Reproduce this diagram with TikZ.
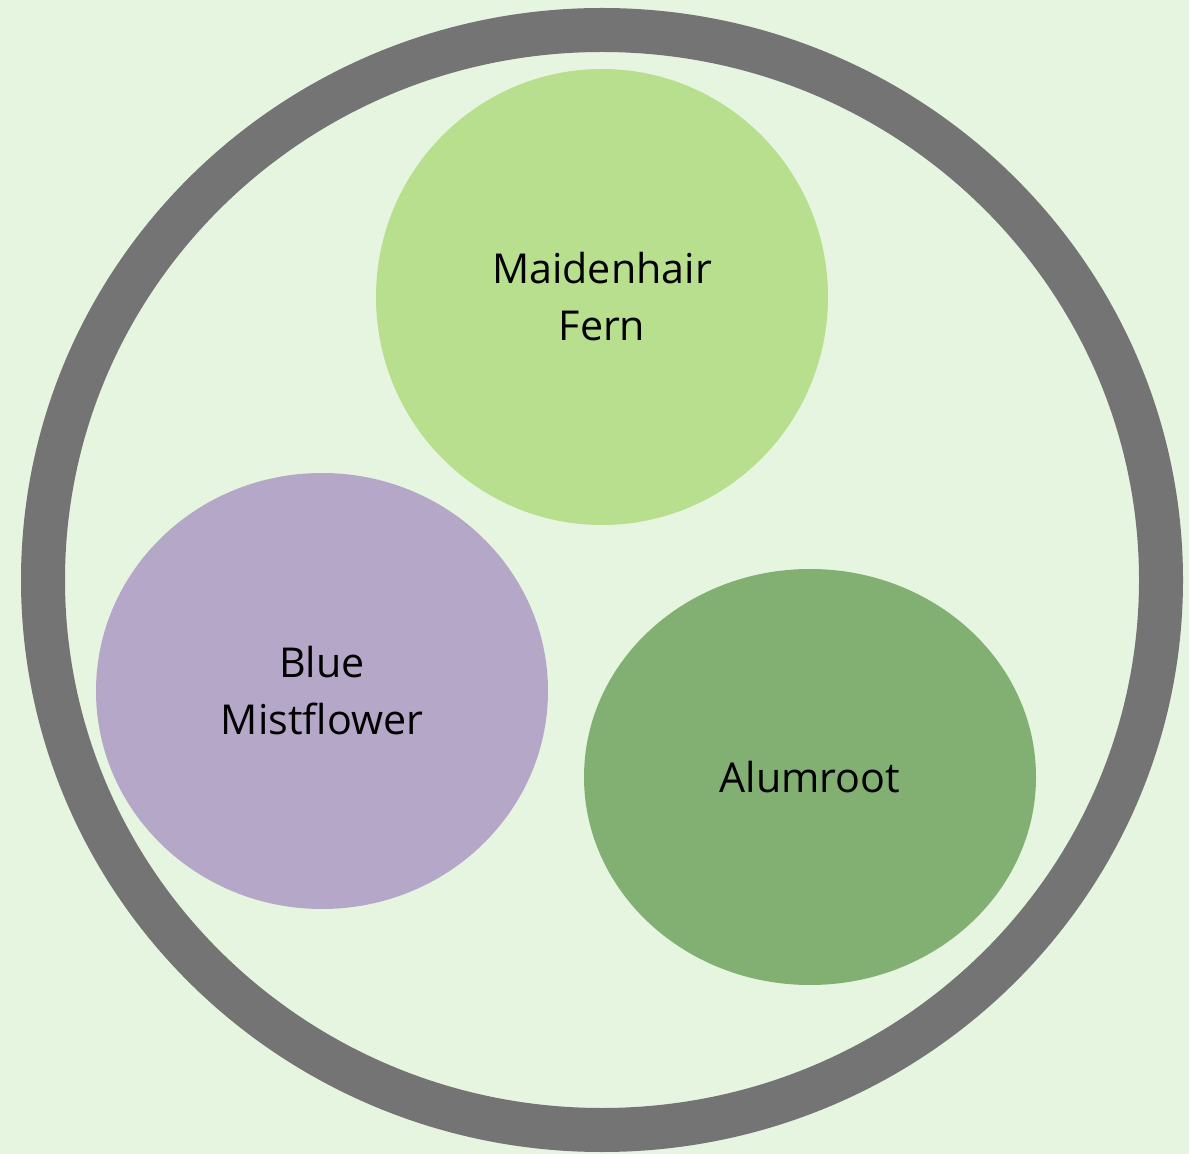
\documentclass[tikz,border=0pt]{standalone}
\usepackage{fontspec}
\setmainfont{Open Sans}
\usepackage{xcolor}
\usepackage{tikz}
\usetikzlibrary{shapes.geometric}
\definecolor{bgGreen}{HTML}{E6F5E0}
\definecolor{ringGray}{HTML}{747474}
\definecolor{fernGreen}{HTML}{B8DF8E}
\definecolor{mistPurple}{HTML}{B5A7C8}
\definecolor{alumGreen}{HTML}{82AF72}
\tikzset{
  plant/.style={ellipse, inner sep=0pt, align=center, text=black,
    font=\fontsize{20.6}{28.5}\selectfont},
  ring/.style={ellipse, draw=ringGray, line width=22pt, inner sep=0pt},
}

\begin{document}
\begin{tikzpicture}[x=0.5pt, y=-0.5pt]
\fill[bgGreen] (0,0) rectangle (1189,1154);
\useasboundingbox (0,0) rectangle (1189,1154);
\node[ring, minimum width=1118pt*0.5, minimum height=1100pt*0.5] (garden) at (602,580) {};
\node[plant, fill=fernGreen, minimum width=226pt, minimum height=228pt] (fern) at (602,297) {Maidenhair\\Fern};
\node[plant, fill=mistPurple, minimum width=226pt, minimum height=218pt] (mist) at (322,691) {Blue\\Mistflower};
\node[plant, fill=alumGreen, minimum width=226pt, minimum height=208pt] (alum) at (810,777) {Alumroot};
\end{tikzpicture}
\end{document}
